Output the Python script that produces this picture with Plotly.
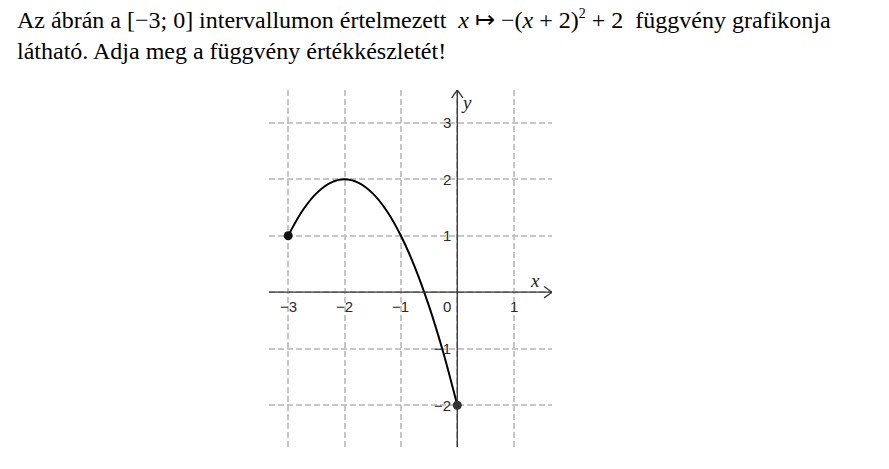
import plotly.graph_objects as go

# Data
curve_x = [-3, -2.75, -2.5, -2.25, -2, -1.75, -1.5, -1.25, -1, -0.75, -0.5, -0.25, 0]
curve_y = [1, 1.4375, 1.75, 1.9375, 2, 1.9375, 1.75, 1.4375, 1, 0.4375, -0.25, -1.0625, -2]
end_x = [-3, 0]
end_y = [1, -2]
end_colors = ["#111111", "#333333"]
x_ticks = [-3, -2, -1, 1]
x_tick_labels = ["−3", "−2", "−1", "1"]
y_ticks = [3, 2, 1, -1, -2]
y_tick_labels = ["3", "2", "1", "−1", "−2"]

W, H = 889, 469
OFF = 0  # page body margin removed below
XR = [-3.34, 1.68]
YR = [-2.74, 3.58]


def px_x(s):
    return (s - OFF) / W


def px_y(s):
    return 1 - (s - OFF) / H


fig = go.Figure()
fig.add_trace(go.Scatter(x=curve_x, y=curve_y, mode="lines",
                         line=dict(color="#000000", width=2, shape="spline", smoothing=1.0),
                         hoverinfo="skip", showlegend=False))
fig.add_trace(go.Scatter(x=end_x, y=end_y, mode="markers",
                         marker=dict(color=end_colors, size=9),
                         showlegend=False))

axis_col = "#333333"
shapes = [
    dict(type="line", xref="x", yref="y", x0=XR[0], x1=XR[1], y0=0, y1=0, line=dict(color=axis_col, width=1.3)),
    dict(type="line", xref="x", yref="y", x0=0, x1=0, y0=YR[0], y1=YR[1], line=dict(color=axis_col, width=1.3)),
    dict(type="path", xref="x", yref="y",
         path=f"M {XR[1]-0.14},0.1 L {XR[1]},0 L {XR[1]-0.14},-0.1",
         line=dict(color=axis_col, width=1.3)),
    dict(type="path", xref="x", yref="y",
         path=f"M -0.1,{YR[1]-0.14} L 0,{YR[1]} L 0.1,{YR[1]-0.14}",
         line=dict(color=axis_col, width=1.3)),
]

ann = []
tick_font = dict(family="Liberation Sans, Arial, sans-serif", size=15, color="#2a2a2a")
for v, t in zip(x_ticks, x_tick_labels):
    ann.append(dict(x=v, y=0, xref="x", yref="y", text=t, showarrow=False,
                    font=tick_font, xanchor="center", yanchor="top", yshift=-4))
ann.append(dict(x=0, y=0, xref="x", yref="y", text="0", showarrow=False,
                font=tick_font, xanchor="right", yanchor="top", xshift=-4, yshift=-4))
for v, t in zip(y_ticks, y_tick_labels):
    ann.append(dict(x=0, y=v, xref="x", yref="y", text=t, showarrow=False,
                    font=tick_font, xanchor="right", yanchor="middle", xshift=-4))
ann.append(dict(x=1.38, y=0.2, xref="x", yref="y", text="<i>x</i>", showarrow=False,
                font=dict(family="Liberation Serif, Times New Roman, serif", size=19, color="#222222")))
ann.append(dict(x=0.16, y=3.36, xref="x", yref="y", text="<i>y</i>", showarrow=False,
                font=dict(family="Liberation Serif, Times New Roman, serif", size=19, color="#222222")))

title_font = dict(family="Liberation Serif, Times New Roman, serif", size=24, color="#000000")
ann.append(dict(x=px_x(15), y=px_y(20), xref="paper", yref="paper", xanchor="left", yanchor="middle",
                showarrow=False, font=title_font,
                text="Az ábrán a [−3; 0] intervallumon értelmezett &nbsp;<i>x</i> ↦ −(<i>x</i> + 2)"
                     "<sup><span style='font-size:14px'>2</span></sup> + 2 &nbsp;függvény grafikonja"))
ann.append(dict(x=px_x(15), y=px_y(51), xref="paper", yref="paper", xanchor="left", yanchor="middle",
                showarrow=False, font=title_font,
                text="látható. Adja meg a függvény értékkészletét!"))

grid = dict(showgrid=True, gridcolor="#c6c6c6", gridwidth=1.6, griddash="6px,3px", dtick=1,
            zeroline=False, showticklabels=False, ticks="", showline=False, fixedrange=True)

fig.update_layout(
    width=W, height=H, margin=dict(l=0, r=0, t=0, b=0),
    paper_bgcolor="white", plot_bgcolor="white",
    xaxis=dict(range=XR, domain=[px_x(269), px_x(552)], tick0=0, **grid),
    yaxis=dict(range=YR, domain=[px_y(447), px_y(90)], tick0=0, **grid),
    shapes=shapes, annotations=ann, showlegend=False,
)

fig.write_html("out.html", config={"displayModeBar": False},
               post_script="document.body.style.margin='0px';document.body.style.overflow='hidden';")
